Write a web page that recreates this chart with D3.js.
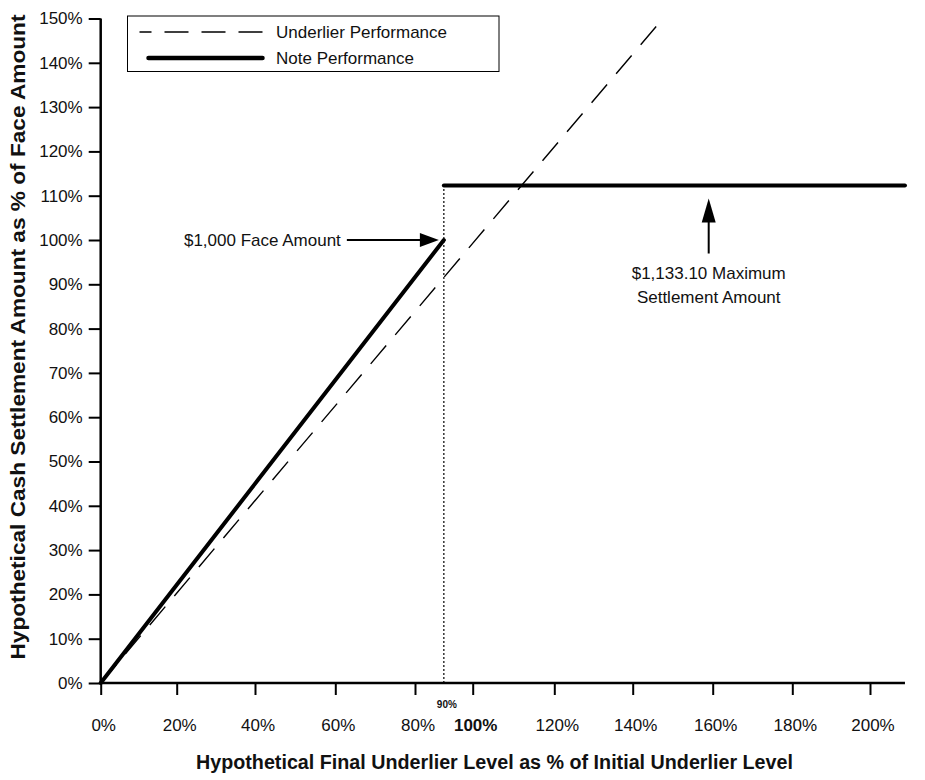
<!DOCTYPE html>
<html>
<head>
<meta charset="utf-8">
<script src="https://cdn.jsdelivr.net/npm/d3@7"></script>
<style>
  body { margin: 0; background: #fff; }
  svg text { font-family: 'Liberation Sans', Arial, sans-serif; fill: #111; }
</style>
</head>
<body>
<div id="chart"></div>
<script>
// values (x and y in % of initial level / face amount)
const xTicks = [0, 20, 40, 60, 80, 100, 120, 140, 160, 180, 200]
const yTicks = [0, 10, 20, 30, 40, 50, 60, 70, 80, 90, 100, 110, 120, 130, 140, 150]
const underlier = [[0, 0], [146.8, 149.2]]
const noteRise = [[0, 0], [90, 100]]
const noteCap = [[90, 112.3], [209, 112.3]]
const threshold = [[90, 0], [90, 112.3]]
const faceLabel = '$1,000 Face Amount'
const faceValue = [90, 100]
const maxLabel = ['$1,133.10 Maximum', 'Settlement Amount']
const maxValue = [160, 112.3]
const legendItems = ['Underlier Performance', 'Note Performance']

const width = 925
const height = 780

const svg = d3.select('#chart').append('svg')
  .attr('width', width)
  .attr('height', height)

// the source axis is not evenly spaced (80% -> 100% is squeezed), so piecewise scale
const x = d3.scaleLinear()
  .domain(xTicks)
  .range([100.7, 176.7, 255, 335.3, 415, 472.7, 554.3, 632.7, 712.7, 792.3, 870])

const y = d3.scaleLinear()
  .domain([0, 150])
  .range([683, 18.5])

const line = d3.line()
  .x(d => x(d[0]))
  .y(d => y(d[1]))

// axes
const gx = svg.append('g')
  .attr('transform', `translate(0,${y(0)})`)
  .call(d3.axisBottom(x).tickValues(xTicks).tickSize(12).tickFormat(''))
gx.select('.domain').remove()
gx.selectAll('.tick line').attr('stroke', '#000').attr('stroke-width', 2)
gx.append('line')
  .attr('x1', x(0)).attr('x2', x(209))
  .attr('stroke', '#000').attr('stroke-width', 2.5)

svg.append('g')
  .selectAll('text')
  .data(xTicks)
  .enter()
  .append('text')
  .attr('x', d => x(d) + 3)
  .attr('y', 731)
  .attr('text-anchor', 'middle')
  .style('font-size', d => d === 100 ? '17px' : '17px')
  .style('font-weight', d => d === 100 ? 'bold' : 'normal')
  .text(d => d + '%')

svg.append('text')
  .attr('x', x(90) + 3)
  .attr('y', 708)
  .attr('text-anchor', 'middle')
  .style('font-size', '10px')
  .style('font-weight', 'bold')
  .text('90%')

const gy = svg.append('g')
  .attr('transform', `translate(${x(0)},0)`)
  .call(d3.axisLeft(y).tickValues(yTicks).tickSize(12).tickPadding(6).tickFormat(d => d + '%'))
gy.select('.domain').remove()
gy.selectAll('.tick line').attr('stroke', '#000').attr('stroke-width', 2)
gy.selectAll('.tick text').style('font-size', '17px').attr('fill', '#111')
gy.append('line')
  .attr('y1', y(0)).attr('y2', y(150))
  .attr('stroke', '#000').attr('stroke-width', 2.5)

// axis titles
svg.append('text')
  .attr('x', 494.5)
  .attr('y', 769)
  .attr('text-anchor', 'middle')
  .attr('textLength', 597)
  .attr('lengthAdjust', 'spacingAndGlyphs')
  .style('font-size', '20px')
  .style('font-weight', 'bold')
  .text('Hypothetical Final Underlier Level as % of Initial Underlier Level')

svg.append('text')
  .attr('transform', 'translate(25,337) rotate(-90)')
  .attr('text-anchor', 'middle')
  .attr('textLength', 645)
  .attr('lengthAdjust', 'spacingAndGlyphs')
  .style('font-size', '20px')
  .style('font-weight', 'bold')
  .text('Hypothetical Cash Settlement Amount as % of Face Amount')

// lines
svg.append('path')
  .datum(threshold)
  .attr('fill', 'none')
  .attr('stroke', '#000')
  .attr('stroke-width', 1.2)
  .attr('stroke-dasharray', '2,2')
  .attr('d', line)

svg.append('path')
  .datum(underlier)
  .attr('fill', 'none')
  .attr('stroke', '#000')
  .attr('stroke-width', 1.4)
  .attr('stroke-dasharray', '24,14')
  .attr('d', line)

svg.append('path')
  .datum(noteRise)
  .attr('fill', 'none')
  .attr('stroke', '#000')
  .attr('stroke-width', 4)
  .attr('stroke-linecap', 'round')
  .attr('d', line)

svg.append('path')
  .datum(noteCap)
  .attr('fill', 'none')
  .attr('stroke', '#000')
  .attr('stroke-width', 4)
  .attr('stroke-linecap', 'round')
  .attr('d', line)

// annotations
const fx = x(faceValue[0])
const fy = y(faceValue[1])
svg.append('text')
  .attr('x', fx - 103)
  .attr('y', fy + 6)
  .attr('text-anchor', 'end')
  .style('font-size', '17px')
  .text(faceLabel)
svg.append('line')
  .attr('x1', fx - 97).attr('x2', fx - 22)
  .attr('y1', fy).attr('y2', fy)
  .attr('stroke', '#000').attr('stroke-width', 2)
svg.append('path')
  .attr('d', `M${fx - 5},${fy} L${fx - 24},${fy - 7} L${fx - 24},${fy + 7} Z`)
  .attr('fill', '#000')

const mx = x(maxValue[0]) - 4
const my = y(maxValue[1])
svg.append('path')
  .attr('d', `M${mx},${my + 13} L${mx - 7},${my + 37} L${mx + 7},${my + 37} Z`)
  .attr('fill', '#000')
svg.append('line')
  .attr('x1', mx).attr('x2', mx)
  .attr('y1', my + 35).attr('y2', my + 68)
  .attr('stroke', '#000').attr('stroke-width', 2)
svg.append('text')
  .attr('text-anchor', 'middle')
  .style('font-size', '17px')
  .selectAll('tspan')
  .data(maxLabel)
  .enter()
  .append('tspan')
  .attr('x', mx)
  .attr('y', (d, i) => my + 93 + i * 24)
  .text(d => d)

// legend
const legend = svg.append('g').attr('transform', 'translate(127.5,16)')
legend.append('rect')
  .attr('width', 371.5)
  .attr('height', 55.5)
  .attr('fill', '#fff')
  .attr('stroke', '#000')
  .attr('stroke-width', 1)
legend.append('line')
  .attr('x1', 12).attr('x2', 137)
  .attr('y1', 16).attr('y2', 16)
  .attr('stroke', '#000').attr('stroke-width', 1.4)
  .attr('stroke-dasharray', '12,13,24,13,24,13,24')
legend.append('line')
  .attr('x1', 21).attr('x2', 135)
  .attr('y1', 42).attr('y2', 42)
  .attr('stroke', '#000').attr('stroke-width', 4.5)
  .attr('stroke-linecap', 'round')
legend.selectAll('text.item')
  .data(legendItems)
  .enter()
  .append('text')
  .attr('class', 'item')
  .attr('x', 148.5)
  .attr('y', (d, i) => 22 + i * 26)
  .style('font-size', '17px')
  .text(d => d)
</script>
</body>
</html>
